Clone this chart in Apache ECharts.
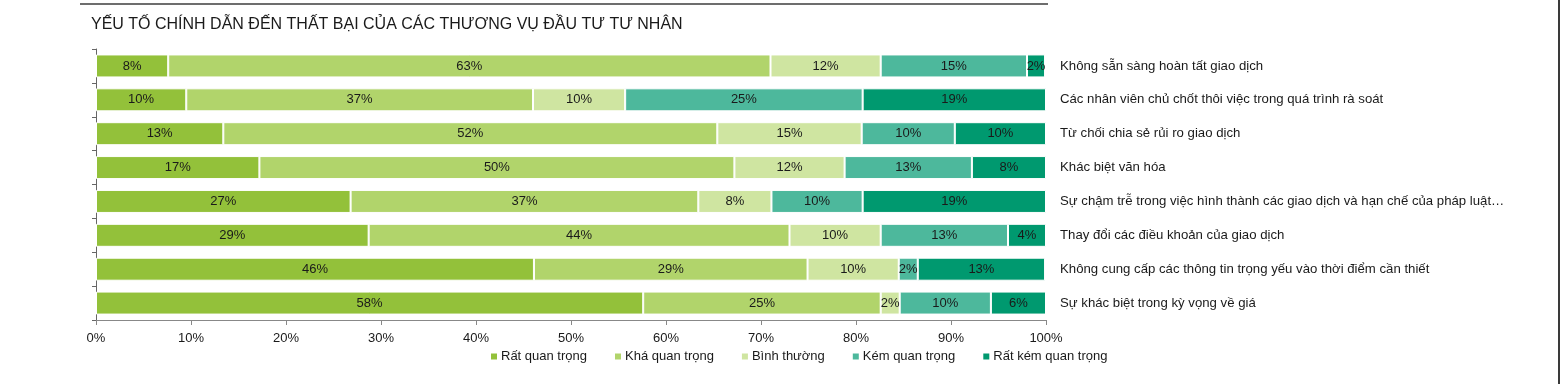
<!DOCTYPE html>
<html><head><meta charset="utf-8">
<script src="https://cdn.jsdelivr.net/npm/echarts@6/dist/echarts.min.js"></script>
<style>html,body{margin:0;padding:0;background:#fff}#c{width:1561px;height:384px}</style>
</head><body><div id="c"></div>
<script>
const title = 'YẾU TỐ CHÍNH DẪN ĐẾN THẤT BẠI CỦA CÁC THƯƠNG VỤ ĐẦU TƯ TƯ NHÂN';
const categories = [
  'Không sẵn sàng hoàn tất giao dịch',
  'Các nhân viên chủ chốt thôi việc trong quá trình rà soát',
  'Từ chối chia sẻ rủi ro giao dịch',
  'Khác biệt văn hóa',
  'Sự chậm trễ trong việc hình thành các giao dịch và hạn chế của pháp luật…',
  'Thay đổi các điều khoản của giao dịch',
  'Không cung cấp các thông tin trọng yếu vào thời điểm cần thiết',
  'Sự khác biệt trong kỳ vọng về giá'
];
const seriesNames = ['Rất quan trọng','Khá quan trọng','Bình thường','Kém quan trọng','Rất kém quan trọng'];
const ratQuanTrong   = [7.6, 9.5, 13.4, 17.2, 26.8, 28.7, 46.1, 57.6];
const khaQuanTrong   = [63.4, 36.5, 52.0, 50.0, 36.6, 44.3, 28.8, 25.0];
const binhThuong     = [11.6, 9.7, 15.2, 11.6, 7.7, 9.6, 9.6, 2.0];
const kemQuanTrong   = [15.4, 25.0, 9.8, 13.4, 9.6, 13.4, 2.0, 9.6];
const ratKemQuanTrong= [1.9, 19.3, 9.6, 7.8, 19.3, 4.0, 13.4, 5.8];
const xTicks = [0,10,20,30,40,50,60,70,80,90,100];
const colors = ['#93c13a','#b1d46b','#cfe5a1','#4db89c','#00996f'];

const font = "'Liberation Sans',Arial,sans-serif";
const allData = [ratQuanTrong, khaQuanTrong, binhThuong, kemQuanTrong, ratKemQuanTrong];

const chart = echarts.init(document.getElementById('c'), null, {renderer:'canvas'});
chart.setOption({
  animation:false,
  title:{text:title,left:86,top:12,textStyle:{fontFamily:font,fontSize:16,fontWeight:'normal',color:'#1a1a1a'}},
  graphic:[
    {type:'rect',shape:{x:80,y:3,width:968,height:2},style:{fill:'#6d6d6d'}},
    {type:'rect',shape:{x:1558,y:0,width:2,height:384},style:{fill:'#3a3a3a'}}
  ],
  legend:{
    data:seriesNames,left:484,top:345,icon:'rect',itemWidth:8,itemHeight:8,itemGap:26,
    textStyle:{fontFamily:font,fontSize:13,color:'#1a1a1a',padding:[0,0,0,-2]}
  },
  grid:{left:96,right:515,top:49,bottom:64},
  xAxis:{type:'value',min:0,max:100,interval:10,
    axisLine:{show:true,lineStyle:{color:'#888',width:1}},
    axisTick:{show:true,length:5,lineStyle:{color:'#888'}},
    splitLine:{show:false},
    axisLabel:{formatter:v=>v+'%',fontFamily:font,fontSize:13,color:'#1a1a1a',margin:12}
  },
  yAxis:[
    {type:'category',data:categories,inverse:true,position:'left',
      axisLine:{show:true,lineStyle:{color:'#666',width:1}},
      axisTick:{show:true,length:4,lineStyle:{color:'#666'}},
      axisLabel:{show:false}},
    {type:'category',data:categories,inverse:true,position:'right',
      axisLine:{show:false},axisTick:{show:false},
      axisLabel:{show:true,align:'left',margin:14,fontFamily:font,fontSize:13.2,color:'#1a1a1a'}}
  ],
  series: seriesNames.map((n,i)=>({
    name:n,type:'bar',stack:'total',barWidth:23,data:allData[i],
    itemStyle:{color:colors[i],borderColor:'#fff',borderWidth:1},
    label:{show:true,position:'inside',formatter:p=>Math.round(p.value)+'%',fontFamily:font,fontSize:13,color:'#1a1a1a'}
  }))
});
</script></body></html>
